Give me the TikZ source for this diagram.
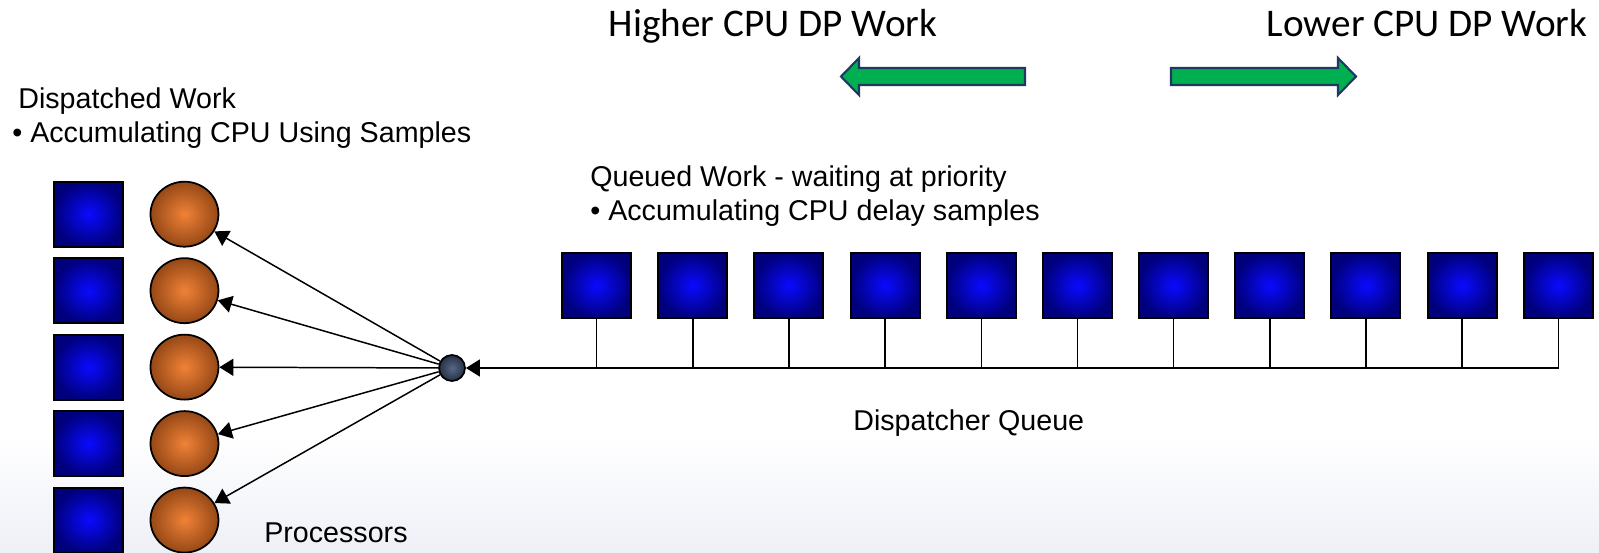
\documentclass[tikz,border=0pt]{standalone}
\usepackage{fontspec}
\setmainfont{Liberation Sans}
\newfontfamily\calibrifont{Carlito}
\usepackage{xcolor}
\usepackage{tikz}
\usetikzlibrary{arrows.meta,positioning,shapes.geometric}
\definecolor{azultrabajo}{RGB}{10,10,255}
\definecolor{azulborde}{RGB}{0,0,125}
\definecolor{naranjacpu}{RGB}{240,130,55}
\definecolor{marroncpu}{RGB}{150,72,22}
\definecolor{grisnodo}{RGB}{85,105,135}
\definecolor{grisoscuro}{RGB}{38,48,68}
\definecolor{verdeflecha}{RGB}{0,176,80}
\definecolor{azulflecha}{RGB}{31,56,100}
\definecolor{fondoazul}{RGB}{238,240,247}

\begin{document}
\begin{tikzpicture}[x=0.02cm, y=-0.02cm,
    job/.style={rectangle, draw=black, line width=1.1pt,
                minimum width=1.38cm, minimum height=1.3cm, inner sep=0pt,
                inner color=azultrabajo, outer color=azulborde},
    cpu/.style={ellipse, draw=black, line width=1pt,
                minimum width=1.36cm, minimum height=1.3cm, inner sep=0pt,
                inner color=naranjacpu, outer color=marroncpu},
    hubdot/.style={circle, draw=black, line width=1pt,
                   minimum size=0.52cm, inner sep=0pt,
                   inner color=grisnodo, outer color=grisoscuro},
    arrow/.style={-{Triangle[length=0.28cm, width=0.34cm]}, line width=0.85pt},
    wire/.style={line width=0.85pt},
    direction/.style={draw=azulflecha, line width=1.2pt, fill=verdeflecha},
    note/.style={font=\fontsize{16.3}{19.3}\selectfont, inner sep=0pt, align=left},
    heading/.style={font=\calibrifont\fontsize{22.3}{26}\selectfont, inner sep=0pt}
  ]
    \useasboundingbox[fill=white] (0,0) rectangle (1599,553);
    \shade[top color=white, bottom color=fondoazul] (0,435) rectangle (1599,553);

    % dispatched work and processors
    \node[job] (d1) at (88.7,214.2) {};
    \node[job, below=0.191cm of d1] (d2) {};
    \node[job, below=0.191cm of d2] (d3) {};
    \node[job, below=0.191cm of d3] (d4) {};
    \node[job, below=0.191cm of d4] (d5) {};
    \node[cpu, right=0.509cm of d1] (c1) {};
    \node[cpu, right=0.509cm of d2] (c2) {};
    \node[cpu, right=0.509cm of d3] (c3) {};
    \node[cpu, right=0.509cm of d4] (c4) {};
    \node[cpu, right=0.509cm of d5] (c5) {};
    \node[hubdot] (hub) at (452,368) {};

    % queued work
    \node[job] (q1) at (596.6,285.5) {};
    \node[job, right=0.505cm of q1] (q2) {};
    \node[job, right=0.505cm of q2] (q3) {};
    \node[job, right=0.505cm of q3] (q4) {};
    \node[job, right=0.505cm of q4] (q5) {};
    \node[job, right=0.505cm of q5] (q6) {};
    \node[job, right=0.505cm of q6] (q7) {};
    \node[job, right=0.505cm of q7] (q8) {};
    \node[job, right=0.505cm of q8] (q9) {};
    \node[job, right=0.505cm of q9] (q10) {};
    \node[job, right=0.505cm of q10] (q11) {};

    \draw[wire] (q1.south) -- (q1.south |- hub);
    \draw[wire] (q2.south) -- (q2.south |- hub);
    \draw[wire] (q3.south) -- (q3.south |- hub);
    \draw[wire] (q4.south) -- (q4.south |- hub);
    \draw[wire] (q5.south) -- (q5.south |- hub);
    \draw[wire] (q6.south) -- (q6.south |- hub);
    \draw[wire] (q7.south) -- (q7.south |- hub);
    \draw[wire] (q8.south) -- (q8.south |- hub);
    \draw[wire] (q9.south) -- (q9.south |- hub);
    \draw[wire] (q10.south) -- (q10.south |- hub);
    \draw[arrow] (q11.south) |- (hub);

    \draw[arrow] (hub) -- (c1);
    \draw[arrow] (hub) -- (c2);
    \draw[arrow] (hub) -- (c3);
    \draw[arrow] (hub) -- (c4);
    \draw[arrow] (hub) -- (c5);

    % priority direction
    \draw[direction] (1025,68) -- (859,68) -- (859,58) -- (841,76.5)
      -- (859,95) -- (859,85) -- (1025,85) -- cycle;
    \draw[direction] (1171,68) -- (1338,68) -- (1338,58) -- (1356,76.5)
      -- (1338,95) -- (1338,85) -- (1171,85) -- cycle;

    \node[heading, anchor=base] (higher) at (773,37) {Higher CPU DP Work};
    \node[heading, anchor=base] (lower) at (1427,37) {Lower CPU DP Work};
    \node[note, anchor=north west] (dispatched) at (12,87)
      {\hspace*{0.12cm}Dispatched Work\\• Accumulating CPU Using Samples};
    \node[note, anchor=north west] (queued) at (590,165)
      {Queued Work - waiting at priority\\• Accumulating CPU delay samples};
    \node[note, anchor=base west] (queue) at (853,431) {Dispatcher Queue};
    \node[note, anchor=base west] (processors) at (264,542) {Processors};
  \end{tikzpicture}
\end{document}
